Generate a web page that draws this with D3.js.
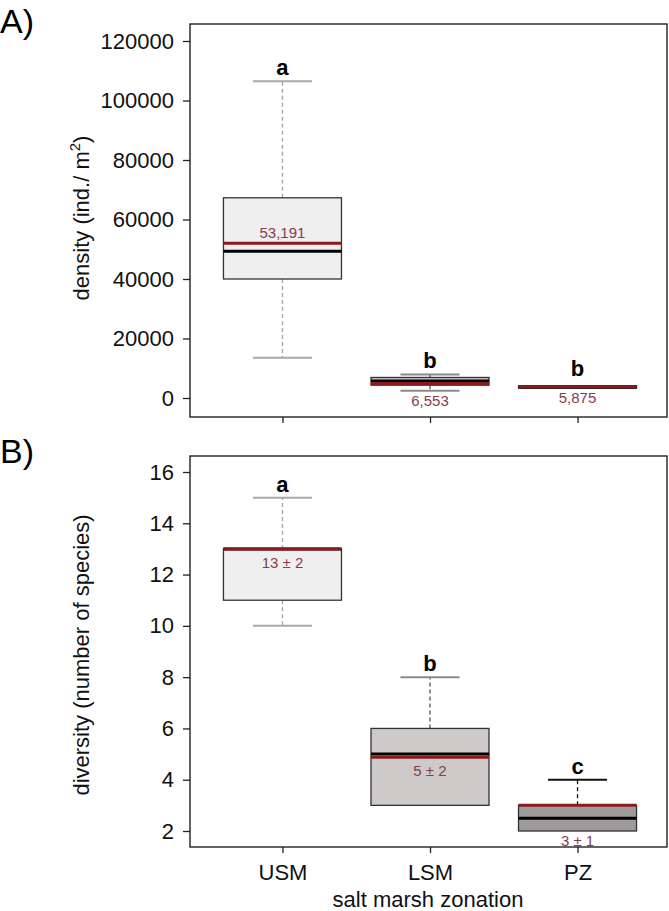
<!DOCTYPE html>
<html>
<head>
<meta charset="utf-8">
<script src="https://cdn.jsdelivr.net/npm/d3@7.9.0/dist/d3.min.js"></script>
<style>
  body { margin: 0; background: #fff; }
  svg { display: block; font-family: "Liberation Sans", Arial, sans-serif; }
</style>
</head>
<body>
<svg id="chart" width="669" height="911"></svg>
<script>
// categories
const zones = ['USM', 'LSM', 'PZ'];

// panel A - density (ind./m2)
const densityLow    = [13500, 2400, 3300];
const densityQ1     = [40000, 4300, 3300];
const densityMedian = [49300, 5700, 3700];
const densityMean   = [52000, 4900, 3800];
const densityQ3     = [67300, 6900, 4100];
const densityHigh   = [106500, 7900, 4100];
const densityLabels = ['53,191', '6,553', '5,875'];
const densityLetters = ['a', 'b', 'b'];
const densityTicks = [0, 20000, 40000, 60000, 80000, 100000, 120000];

// panel B - diversity (number of species)
const diversityLow    = [10, 3, 2];
const diversityQ1     = [11, 3, 2];
const diversityMedian = [13, 5, 2.5];
const diversityMean   = [13, 4.88, 3];
const diversityQ3     = [13, 6, 3];
const diversityHigh   = [15, 8, 4];
const diversityLabels = ['13 \u00b1 2', '5 \u00b1 2', '3 \u00b1 1'];
const diversityLetters = ['a', 'b', 'c'];
const diversityTicks = [2, 4, 6, 8, 10, 12, 14, 16];

// styling per zone
const boxFill = ['#efefef', '#cecaca', '#9f9b9b'];
const whiskerColor = ['#a3a3a3', '#555', '#111'];
const capColor = ['#a8a8a8', '#8a8a8a', '#111'];
const meanColor = '#8b1a1d';
const labelColor = '#8b3a4a';

const svg = d3.select('#chart');

const frameLeft = 190, frameRight = 667;
const x = d3.scalePoint().domain(zones).range([191, 669]).padding(0.62);
const boxW = x.step() * 0.8;
const capW = boxW * 0.5;

function build(values) {
  return zones.map((z, i) => ({
    zone: z,
    low: values.low[i], q1: values.q1[i], median: values.median[i],
    mean: values.mean[i], q3: values.q3[i], high: values.high[i],
    label: values.labels[i], letter: values.letters[i],
    labelPos: values.labelPos[i], i
  }));
}

function drawPanel(cfg) {
  const g = svg.append('g');
  const y = d3.scaleLinear().domain(cfg.domain).range(cfg.range);

  // y axis
  const yAxis = g.append('g')
    .attr('transform', `translate(${frameLeft},0)`)
    .call(d3.axisLeft(y).tickValues(cfg.ticks).tickSize(7).tickPadding(9).tickFormat(d3.format('d')));
  yAxis.select('.domain').remove();
  yAxis.selectAll('line').attr('stroke', '#222').attr('stroke-width', 1.3);
  yAxis.selectAll('text').attr('font-size', 22).attr('fill', '#111')
    .attr('font-family', '"Liberation Sans", Arial, sans-serif');

  // x axis
  const xAxis = g.append('g')
    .attr('transform', `translate(0,${cfg.frameBottom})`)
    .call(d3.axisBottom(x).tickSize(6).tickPadding(11)
      .tickFormat(cfg.showX ? (d => d) : () => ''));
  xAxis.select('.domain').remove();
  xAxis.selectAll('line').attr('stroke', '#222').attr('stroke-width', 1.3);
  xAxis.selectAll('text').attr('font-size', 22).attr('fill', '#111')
    .attr('font-family', '"Liberation Sans", Arial, sans-serif');

  // frame
  g.append('rect')
    .attr('x', frameLeft).attr('y', cfg.frameTop)
    .attr('width', frameRight - frameLeft).attr('height', cfg.frameBottom - cfg.frameTop)
    .attr('fill', 'none').attr('stroke', '#222').attr('stroke-width', 1.4);

  const data = build(cfg.values);
  const boxes = g.selectAll('g.box').data(data).join('g').attr('class', 'box');

  // whiskers
  boxes.filter(d => d.high > d.q3).append('line')
    .attr('x1', d => x(d.zone)).attr('x2', d => x(d.zone))
    .attr('y1', d => y(d.q3)).attr('y2', d => y(d.high))
    .attr('stroke', d => whiskerColor[d.i]).attr('stroke-width', 1.3)
    .attr('stroke-dasharray', '4,3');
  boxes.filter(d => d.low < d.q1).append('line')
    .attr('x1', d => x(d.zone)).attr('x2', d => x(d.zone))
    .attr('y1', d => y(d.q1)).attr('y2', d => y(d.low))
    .attr('stroke', d => whiskerColor[d.i]).attr('stroke-width', 1.3)
    .attr('stroke-dasharray', '4,3');
  boxes.filter(d => d.high > d.q3).append('line')
    .attr('x1', d => x(d.zone) - capW / 2).attr('x2', d => x(d.zone) + capW / 2)
    .attr('y1', d => y(d.high)).attr('y2', d => y(d.high))
    .attr('stroke', d => capColor[d.i]).attr('stroke-width', 2);
  boxes.filter(d => d.low < d.q1).append('line')
    .attr('x1', d => x(d.zone) - capW / 2).attr('x2', d => x(d.zone) + capW / 2)
    .attr('y1', d => y(d.low)).attr('y2', d => y(d.low))
    .attr('stroke', d => capColor[d.i]).attr('stroke-width', 2);

  // box
  boxes.append('rect')
    .attr('x', d => x(d.zone) - boxW / 2).attr('width', boxW)
    .attr('y', d => y(d.q3)).attr('height', d => Math.max(1, y(d.q1) - y(d.q3)))
    .attr('fill', d => boxFill[d.i]).attr('stroke', '#333').attr('stroke-width', 1.3);

  // median (black) then mean (red)
  boxes.append('line')
    .attr('x1', d => x(d.zone) - boxW / 2).attr('x2', d => x(d.zone) + boxW / 2)
    .attr('y1', d => y(d.median)).attr('y2', d => y(d.median))
    .attr('stroke', '#000').attr('stroke-width', 3);
  boxes.append('line')
    .attr('x1', d => x(d.zone) - boxW / 2).attr('x2', d => x(d.zone) + boxW / 2)
    .attr('y1', d => y(d.mean)).attr('y2', d => y(d.mean))
    .attr('stroke', meanColor).attr('stroke-width', 3);

  // significance letters
  boxes.append('text')
    .attr('x', d => x(d.zone))
    .attr('y', d => y(d.high) - (d.high > d.q3 ? 6 : 10))
    .attr('text-anchor', 'middle').attr('font-size', 22).attr('font-weight', 'bold')
    .attr('fill', '#000').text(d => d.letter);

  // mean labels
  boxes.append('text')
    .attr('x', d => x(d.zone))
    .attr('y', d => {
      if (d.labelPos === 'above') return y(d.mean) - 5;
      if (d.labelPos === 'under') return y(d.mean) + 19;
      return y(d.low) + 15;
    })
    .attr('text-anchor', 'middle').attr('font-size', 15)
    .attr('fill', labelColor).text(d => d.label);

  // y title
  const t = g.append('text')
    .attr('transform', `translate(${cfg.titleX},${cfg.titleY}) rotate(-90)`)
    .attr('text-anchor', 'middle').attr('font-size', 22).attr('fill', '#111');
  cfg.title(t);

  // panel tag
  g.append('text').attr('x', 0).attr('y', cfg.tagY)
    .attr('font-size', 34).attr('fill', '#000').text(cfg.tag);
}

drawPanel({
  domain: [0, 120000], range: [398, 41],
  frameTop: 24, frameBottom: 417,
  ticks: densityTicks, showX: false,
  values: {
    low: densityLow, q1: densityQ1, median: densityMedian, mean: densityMean,
    q3: densityQ3, high: densityHigh, labels: densityLabels, letters: densityLetters,
    labelPos: ['above', 'below', 'below']
  },
  titleX: 89, titleY: 218,
  title: t => {
    t.append('tspan').text('density (ind./ m');
    t.append('tspan').attr('font-size', 15).attr('dy', -9).text('2');
    t.append('tspan').attr('dy', 9).text(')');
  },
  tag: 'A)', tagY: 33
});

drawPanel({
  domain: [2, 16], range: [831, 472],
  frameTop: 456, frameBottom: 847,
  ticks: diversityTicks, showX: true,
  values: {
    low: diversityLow, q1: diversityQ1, median: diversityMedian, mean: diversityMean,
    q3: diversityQ3, high: diversityHigh, labels: diversityLabels, letters: diversityLetters,
    labelPos: ['under', 'under', 'below']
  },
  titleX: 89, titleY: 655,
  title: t => t.text('diversity (number of species)'),
  tag: 'B)', tagY: 463
});

// x title
svg.append('text')
  .attr('x', 428).attr('y', 907)
  .attr('text-anchor', 'middle').attr('font-size', 22).attr('fill', '#111')
  .text('salt marsh zonation');
</script>
</body>
</html>
